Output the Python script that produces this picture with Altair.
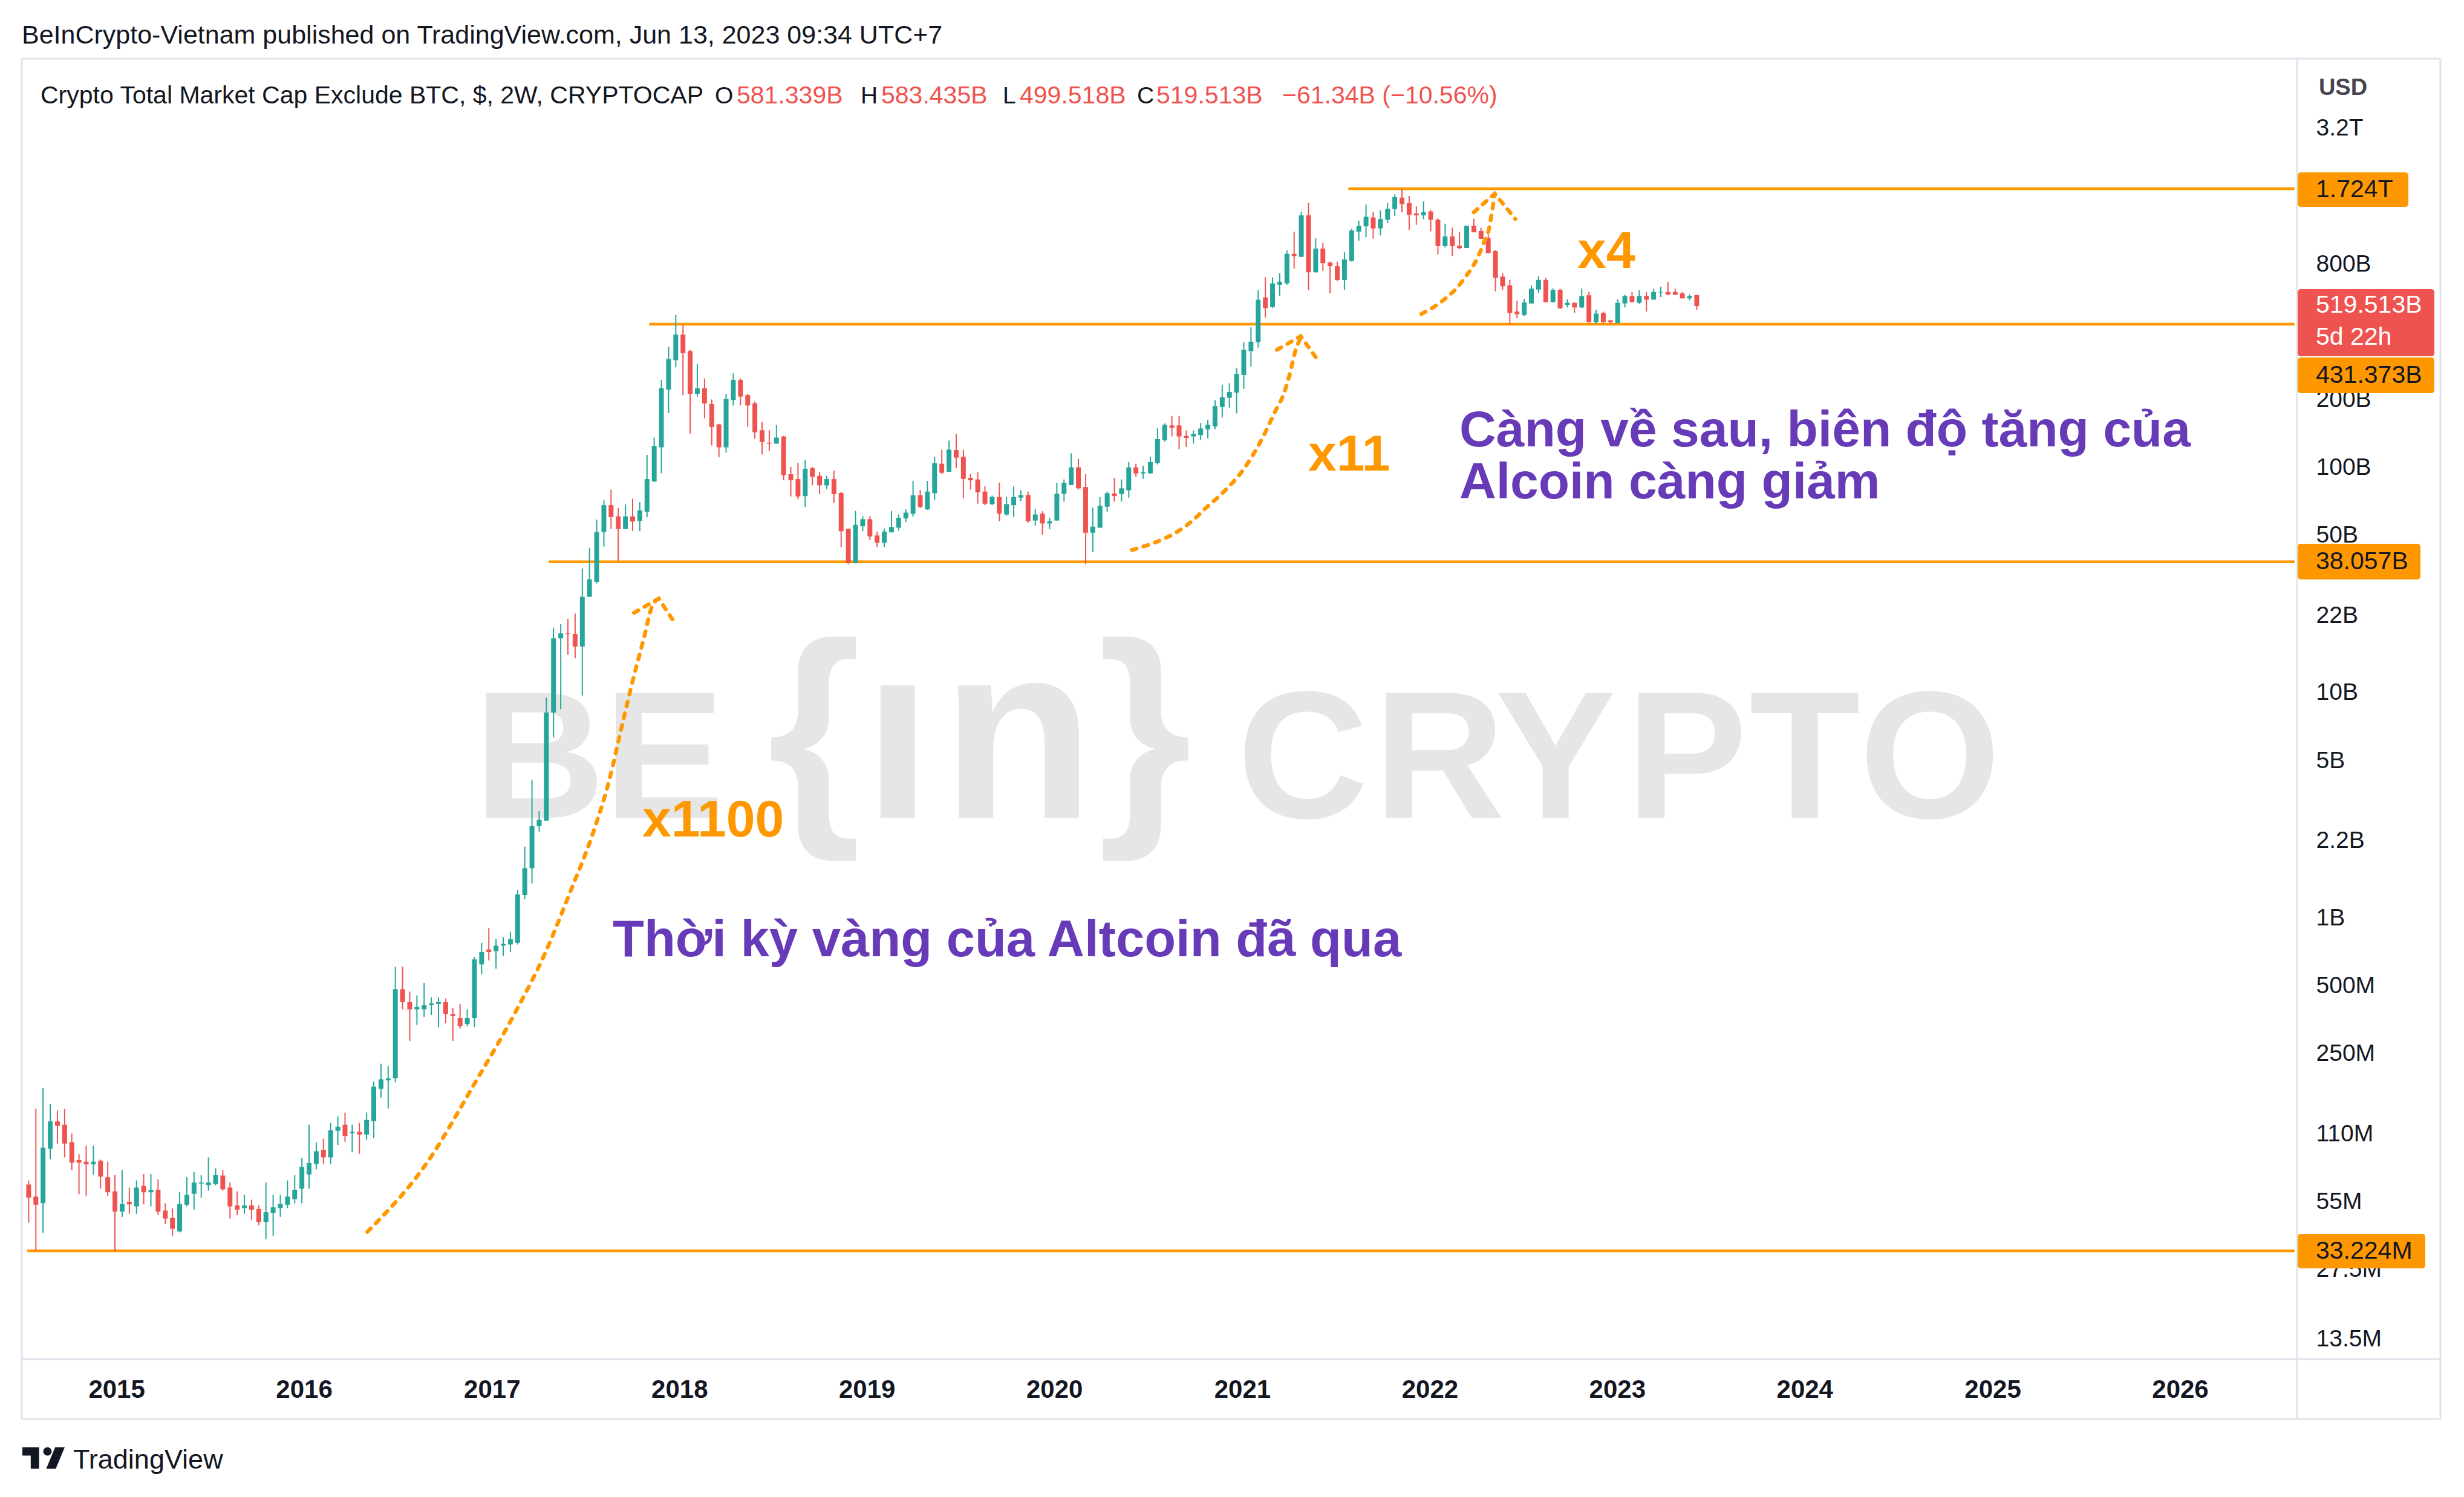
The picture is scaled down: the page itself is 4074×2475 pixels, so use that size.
import altair as alt
import pandas as pd
import numpy as np

FONT = "Liberation Sans, Noto Sans, DejaVu Sans, sans-serif"
UP, DOWN, ORANGE, PURPLE, INK, FRAME, RED = "#26a69a", "#ef5350", "#ff9800", "#673ab7", "#131722", "#e0e3eb", "#ef5350"

# ---------------- data (USD billions), 2-week candles ----------------
LAST_BAR = "2023-06-05"

OPEN = [
    0.0654, 0.0578, 0.0540, 0.0943, 0.1247, 0.1205, 0.1008, 0.0840, 0.0826, 0.0804,
    0.0835, 0.0705, 0.0610, 0.0496, 0.0548, 0.0523, 0.0645, 0.0604, 0.0620, 0.0501,
    0.0465, 0.0405, 0.0532, 0.0595, 0.0661, 0.0650, 0.0658, 0.0717, 0.0634, 0.0528,
    0.0514, 0.0528, 0.0509, 0.0446, 0.0489, 0.0514, 0.0532, 0.0564, 0.0627, 0.0725,
    0.0806, 0.0933, 0.0863, 0.1132, 0.1205, 0.1107, 0.1121, 0.1090, 0.1252, 0.1742,
    0.1897, 0.194, 0.482, 0.422, 0.392, 0.392, 0.409, 0.414, 0.422, 0.374,
    0.359, 0.337, 0.359, 0.621, 0.723, 0.711, 0.752, 0.761, 0.774, 1.26,
    1.66, 2.55, 2.70, 8.15, 17.4, 18.3, 18.2, 16.0, 26.6, 31.0,
    51.6, 67.9, 60.5, 53.2, 60.5, 57.8, 63.5, 86.5, 122.6, 221,
    299, 388, 328, 212, 224, 191, 155, 122.6, 199, 244,
    209, 192, 146, 128.6, 127.3, 137, 93.1, 88.6, 74.5, 99.0,
    91.6, 83.1, 88.6, 76.9, 53.3, 37.5, 54.7, 58.8, 49.8, 46.2,
    51.4, 53.9, 59.3, 62.1, 75.1, 65.0, 76.7, 103.7, 95.5, 119.3,
    111.4, 89.7, 88.3, 78.0, 68.6, 73.8, 61.7, 67.9, 73.3, 75.3,
    58.0, 62.2, 56.3, 58.0, 76.1, 83.3, 99.9, 81.7, 51.2, 53.9,
    66.8, 76.5, 76.1, 79.0, 99.9, 93.9, 93.9, 104.4, 131.9, 153.4,
    153.4, 137.7, 137.0, 138.9, 147.3, 151.7, 185.3, 203.4, 214.5, 256.9,
    328, 359, 568, 515, 646, 655, 886, 859, 1313, 733,
    935, 811, 781, 678, 824, 1112, 1174, 1285, 1149, 1255,
    1400, 1574, 1490, 1340, 1313, 1366, 1255, 959, 1059, 963,
    941, 1180, 1120, 1043, 912, 702, 642, 491, 474, 534,
    615, 679, 541, 613, 526, 537, 512, 580, 441, 484,
    449, 437, 534, 576, 537, 576, 555, 597, 600, 600,
    591, 562, 581.339,
]
HIGH = [
    0.0682, 0.1417, 0.1753, 0.1491, 0.1393, 0.1417, 0.1102, 0.0891, 0.0974, 0.0974,
    0.0844, 0.0826, 0.0720, 0.0759, 0.0634, 0.0682, 0.0728, 0.0728, 0.0690, 0.0540,
    0.0512, 0.0604, 0.0705, 0.0743, 0.0720, 0.0863, 0.0772, 0.0759, 0.0668, 0.0610,
    0.0588, 0.0560, 0.0528, 0.0668, 0.0588, 0.0588, 0.0682, 0.0720, 0.0858, 0.1205,
    0.1008, 0.1045, 0.1229, 0.1313, 0.1364, 0.1205, 0.1229, 0.1364, 0.1876, 0.2249,
    0.2201, 0.606, 0.606, 0.470, 0.452, 0.514, 0.443, 0.443, 0.439, 0.399,
    0.414, 0.392, 0.670, 0.774, 0.900, 0.804, 0.820, 0.867, 1.33, 2.07,
    4.09, 2.97, 9.49, 19.4, 20.1, 21.2, 22.4, 35.5, 43.9, 58.6,
    71.3, 79.6, 65.9, 68.4, 72.5, 69.9, 113.5, 135.4, 244, 342,
    474, 427, 332, 287, 248, 200, 156, 212, 261, 248,
    212, 196, 159, 146, 154, 138, 100.4, 104.5, 107.8, 100.4,
    95.2, 91.6, 96.7, 77.8, 53.5, 64.0, 60.7, 60.7, 51.8, 53.5,
    64.0, 61.7, 65.1, 87.1, 79.3, 87.0, 111.4, 119.8, 131.4, 140.6,
    119.8, 93.5, 95.1, 82.3, 74.9, 85.3, 73.8, 82.3, 79.0, 78.0,
    65.2, 63.8, 59.7, 85.3, 88.3, 115.3, 109.1, 93.1, 66.2, 73.8,
    78.0, 89.7, 88.3, 105.5, 103.7, 101.6, 111.4, 149.4, 156.6, 169.1,
    169.1, 145.7, 145.7, 157.3, 162.2, 198.6, 232.0, 236.1, 276.3, 359,
    418, 610, 697, 697, 728, 918, 1112, 1364, 1490, 1039,
    991, 818, 818, 901, 1143, 1243, 1467, 1360, 1382, 1490,
    1627, 1717, 1600, 1440, 1517, 1389, 1274, 1206, 1157, 1105,
    1180, 1268, 1156, 1081, 921, 727, 679, 548, 560, 643,
    705, 693, 621, 621, 556, 539, 621, 600, 501, 491,
    452, 556, 583, 600, 610, 600, 621, 633, 666, 621,
    600, 585, 583.435,
]
LOW = [
    0.0443, 0.0331, 0.0399, 0.0848, 0.0994, 0.0863, 0.0759, 0.0592, 0.0582, 0.0723,
    0.0627, 0.0582, 0.0331, 0.0470, 0.0485, 0.0485, 0.0534, 0.0523, 0.0479, 0.0437,
    0.0387, 0.0401, 0.0523, 0.0506, 0.0572, 0.0614, 0.0648, 0.0614, 0.0462, 0.0478,
    0.0485, 0.0456, 0.0432, 0.0374, 0.0387, 0.0470, 0.0514, 0.0540, 0.0540, 0.0627,
    0.0763, 0.0804, 0.0804, 0.0980, 0.1012, 0.0909, 0.0895, 0.1034, 0.1051, 0.1590,
    0.1423, 0.186, 0.392, 0.284, 0.334, 0.363, 0.370, 0.327, 0.340, 0.284,
    0.322, 0.330, 0.327, 0.561, 0.646, 0.594, 0.678, 0.704, 0.761, 1.21,
    1.42, 2.41, 2.70, 6.32, 8.44, 14.7, 14.2, 9.7, 26.6, 30.5,
    44.4, 53.2, 38.4, 53.2, 52.1, 52.0, 60.0, 86.1, 94.0, 174,
    278, 209, 141, 206, 165, 125, 110.7, 116, 188, 188,
    151, 134, 114, 118, 127.3, 87.5, 74.2, 72.1, 66.7, 83.1,
    76.0, 80.1, 69.4, 44.3, 37.2, 37.5, 52.0, 47.5, 44.3, 44.3,
    51.4, 52.3, 57.2, 60.3, 65.9, 64.7, 71.5, 93.5, 95.5, 99.1,
    73.0, 79.6, 68.9, 67.9, 67.9, 57.6, 60.9, 60.1, 70.8, 56.8,
    55.0, 50.2, 53.1, 58.0, 70.4, 83.3, 79.6, 37.1, 42.1, 53.9,
    63.5, 70.4, 70.4, 73.3, 90.6, 88.8, 93.9, 102.8, 129.9, 137.0,
    120.3, 123.0, 127.4, 132.2, 134.5, 147.7, 166.1, 183.6, 173.3, 222.9,
    280, 340, 462, 509, 578, 646, 760, 859, 613, 733,
    745, 591, 670, 613, 818, 1014, 1050, 1034, 1070, 1213,
    1303, 1356, 1132, 1192, 1264, 1115, 880, 945, 866, 928,
    941, 1104, 1032, 893, 604, 613, 430, 459, 468, 531,
    595, 539, 539, 504, 512, 484, 509, 439, 435, 435,
    435, 435, 512, 541, 531, 491, 555, 570, 580, 583,
    562, 551, 499.518,
]
CLOSE = [
    0.0572, 0.0532, 0.0953, 0.1247, 0.1192, 0.0994, 0.0818, 0.0818, 0.0804, 0.0826,
    0.0709, 0.0604, 0.0496, 0.0536, 0.0534, 0.0634, 0.0604, 0.0620, 0.0496, 0.0462,
    0.0416, 0.0536, 0.0588, 0.0668, 0.0668, 0.0668, 0.0720, 0.0623, 0.0523, 0.0506,
    0.0528, 0.0506, 0.0446, 0.0493, 0.0518, 0.0536, 0.0578, 0.0620, 0.0784, 0.0814,
    0.0919, 0.0863, 0.1138, 0.1181, 0.1074, 0.1121, 0.1090, 0.1265, 0.1779, 0.1917,
    0.1936, 0.482, 0.422, 0.392, 0.402, 0.409, 0.417, 0.422, 0.374, 0.366,
    0.330, 0.359, 0.653, 0.704, 0.704, 0.752, 0.765, 0.804, 1.27, 1.66,
    2.55, 2.72, 8.15, 17.4, 18.3, 18.2, 16.0, 26.6, 31.8, 51.6,
    67.9, 60.1, 53.2, 60.5, 57.4, 64.3, 88.6, 124.4, 224, 302,
    388, 321, 212, 224, 192, 151, 122.6, 201, 244, 206,
    188, 143, 129.5, 127.3, 135.4, 92.2, 87.5, 74.2, 98.5, 90.7,
    83.1, 88.6, 76.0, 52.0, 37.5, 55.5, 58.8, 49.3, 46.2, 51.8,
    54.3, 59.7, 62.9, 75.1, 66.7, 78.0, 104.1, 94.5, 119.8, 110.3,
    88.8, 87.5, 77.4, 68.9, 73.8, 62.2, 68.6, 73.8, 75.3, 57.6,
    61.7, 56.3, 57.6, 76.3, 85.3, 99.9, 80.6, 51.2, 54.5, 67.5,
    76.7, 74.5, 80.6, 99.9, 93.9, 95.1, 105.5, 133.3, 154.1, 149.6,
    137.0, 134.9, 140.6, 148.6, 154.4, 187.1, 204.6, 215.9, 260.0, 332,
    361, 554, 509, 655, 666, 886, 866, 1313, 733, 935,
    806, 781, 678, 837, 1124, 1178, 1295, 1149, 1264, 1406,
    1582, 1473, 1322, 1313, 1356, 1255, 959, 1059, 959, 939,
    1180, 1104, 1032, 893, 693, 636, 484, 478, 539, 621,
    679, 541, 613, 508, 537, 512, 576, 441, 481, 441,
    441, 537, 576, 541, 576, 555, 600, 600, 585, 583,
    562, 576, 519.513,
]

# horizontal support / resistance levels (USD billions) and where they start (fractional year)
LEVEL_VALUES = [1724.0, 431.373, 38.057, 0.033224]
LEVEL_LABELS = ["1.724T", "431.373B", "38.057B", "33.224M"]
LEVEL_START_YEAR = [2021.566, 2017.839, 2017.302, 2014.524]

# dotted annotation curves (fractional year, USD billions)
C1_YR = [2016.337, 2016.654, 2016.905, 2017.132, 2017.281, 2017.419, 2017.534, 2017.626, 2017.695, 2017.752, 2017.809, 2017.855, 2017.890]
C1_VAL = [0.0403, 0.0816, 0.182, 0.390, 0.688, 1.31, 2.31, 4.08, 7.20, 11.34, 17.2, 24.2, 26.1]
A1_YR = [2017.758, 2017.890, 2017.982]
A1_VAL = [22.6, 26.1, 20.0]
C2_YR = [2020.413, 2020.748, 2020.797, 2020.905, 2021.012, 2021.108, 2021.173, 2021.226, 2021.258, 2021.285, 2021.312]
C2_VAL = [42.9, 59.2, 64.8, 78.3, 99.2, 135, 175, 217, 268, 332, 373]
A2_YR = [2021.185, 2021.312, 2021.408]
A2_VAL = [332, 382, 295]
C3_YR = [2021.955, 2022.029, 2022.093, 2022.148, 2022.190, 2022.225, 2022.260, 2022.286, 2022.315, 2022.334, 2022.347]
C3_VAL = [479, 519, 570, 629, 699, 767, 868, 982, 1132, 1389, 1620]
A3_YR = [2022.235, 2022.347, 2022.457]
A3_VAL = [1354, 1640, 1265]

Y_TICKS = [0.0135, 0.0275, 0.055, 0.11, 0.25, 0.5, 1, 2.2, 5, 10, 22, 50, 100, 200, 800, 3200]
YEARS = list(range(2015, 2027))

HEADER = "BeInCrypto-Vietnam published on TradingView.com, Jun 13, 2023 09:34 UTC+7"
TITLE = "Crypto Total Market Cap Exclude BTC, $, 2W, CRYPTOCAP"
OHLC = [("O", "581.339B"), ("H", "583.435B"), ("L", "499.518B"), ("C", "519.513B")]
CHANGE = "\u221261.34B (\u221210.56%)"
LAST_PRICE = "519.513B"
COUNTDOWN = "5d 22h"
NOTE_1100, NOTE_11, NOTE_4 = "x1100", "x11", "x4"
NOTE_A1 = "C\u00e0ng v\u1ec1 sau, bi\u00ean \u0111\u1ed9 t\u0103ng c\u1ee7a"
NOTE_A2 = "Alcoin c\u00e0ng gi\u1ea3m"
NOTE_B = "Th\u1eddi k\u1ef3 v\u00e0ng c\u1ee7a Altcoin \u0111\u00e3 qua"

# ---------------- helpers ----------------
def fy(f):
    y = int(f)
    s = pd.Timestamp(year=y, month=1, day=1)
    e = pd.Timestamp(year=y + 1, month=1, day=1)
    return (s + (e - s) * (f - y)).strftime("%Y-%m-%dT%H:%M:%S")

n = len(CLOSE)
assert len(OPEN) == n and len(HIGH) == n and len(LOW) == n
dates = pd.date_range(end=LAST_BAR, periods=n, freq="14D")
df = pd.DataFrame({
    "date": dates.strftime("%Y-%m-%dT00:00:00"),
    "open": OPEN, "high": HIGH, "low": LOW, "close": CLOSE,
})
df["dir"] = np.where(df["close"] >= df["open"], "up", "down")

X_END = fy(2026.611)
XSCALE = alt.Scale(domain=[alt.DateTime(year=2014, month=7, date=10), alt.DateTime(year=2026, month=8, date=11)])
YSCALE = alt.Scale(type="log", domain=[0.01098, 6395], nice=False, zero=False)

XAXIS = alt.Axis(values=[alt.DateTime(year=y, month=1, date=1) for y in YEARS], format="%Y",
                 labelFontSize=42, labelFontWeight="bold", labelColor=INK, labelFont=FONT,
                 ticks=False, domain=False, grid=False, labelPadding=50, labelBaseline="middle",
                 title=None, labelOverlap=False, labelFlush=False, labelBound=False)
YAXIS = alt.Axis(orient="right", values=Y_TICKS,
                 labelExpr="datum.value >= 1000 ? format(datum.value/1000, '.2~r') + 'T' : (datum.value >= 1 ? format(datum.value, '.3~r') + 'B' : format(datum.value*1000, '.3~r') + 'M')",
                 labelFontSize=39, labelColor=INK, labelFont=FONT, ticks=False, domain=False, grid=False,
                 labelPadding=31, labelAlign="left", labelBaseline="middle", title=None,
                 labelOverlap=False, labelFlush=False, labelBound=False)

def X(f):
    return alt.X(f"{f}:T", scale=XSCALE, axis=XAXIS)

def Y(f):
    return alt.Y(f"{f}:Q", scale=YSCALE, axis=YAXIS)

ONE = alt.Data(values=[{"k": 1}])

def txt(s, x, y, size, color, weight="normal", align="left", baseline="alphabetic", font=FONT):
    return alt.Chart(alt.Data(values=[{"s": s}])).mark_text(
        align=align, baseline=baseline, fontSize=size, font=font, fontWeight=weight, color=color
    ).encode(x=alt.value(x), y=alt.value(y), text="s:N")

def rect(x1, x2, y1, y2, color, r=0):
    return alt.Chart(ONE).mark_rect(color=color, cornerRadius=r).encode(
        x=alt.value(x1), x2=alt.value(x2), y=alt.value(y1), y2=alt.value(y2))

def hrule(y, x1, x2, color=FRAME, w=3):
    return alt.Chart(ONE).mark_rule(color=color, strokeWidth=w).encode(
        x=alt.value(x1), x2=alt.value(x2), y=alt.value(y))

def vrule(x, y1, y2, color=FRAME, w=3):
    return alt.Chart(ONE).mark_rule(color=color, strokeWidth=w).encode(
        x=alt.value(x), y=alt.value(y1), y2=alt.value(y2))

COLOR = alt.Color("dir:N", scale=alt.Scale(domain=["up", "down"], range=[UP, DOWN]), legend=None)

layers = []

# watermark (BE[in]CRYPTO)
WM = "#e6e6e6"
WM_FONT = "Liberation Sans, Arial, sans-serif"
for ch, cx, size, base in [("B", 853, 300, 1252), ("E", 1059, 300, 1252), ("{", 1307, 398, 1241),
                           ("\u0131", 1445, 414, 1252), ("n", 1644, 414, 1252), ("}", 1854, 398, 1241),
                           ("C", 2115, 300, 1252), ("R", 2341, 300, 1252), ("Y", 2533, 300, 1252),
                           ("P", 2750, 300, 1252), ("T", 2945, 300, 1252), ("O", 3152, 300, 1252)]:
    layers.append(txt(ch, cx, base, size, WM, weight="bold", align="center", font=WM_FONT))

# horizontal levels
lev = pd.DataFrame({"start": [fy(v) for v in LEVEL_START_YEAR], "end": X_END, "value": LEVEL_VALUES})
layers.append(alt.Chart(lev).mark_rule(color=ORANGE, strokeWidth=4.5).encode(
    x=X("start"), x2=alt.X2("end"), y=Y("value")))

# candles
layers.append(alt.Chart(df).mark_rule(strokeWidth=2).encode(x=X("date"), y=Y("low"), y2=alt.Y2("high"), color=COLOR))
layers.append(alt.Chart(df).mark_bar(width=8).encode(x=X("date"), y=Y("open"), y2=alt.Y2("close"), color=COLOR))

# dotted arrows
def curve_df(pairs):
    rows = []
    for cid, (yrs, vals) in enumerate(pairs):
        for i, (a, b) in enumerate(zip(yrs, vals)):
            rows.append({"id": cid, "ord": i, "date": fy(a), "value": b})
    return pd.DataFrame(rows)

dash = dict(color=ORANGE, strokeDash=[8, 12], strokeWidth=6.5, strokeCap="round")
layers.append(alt.Chart(curve_df([(C1_YR, C1_VAL), (C2_YR, C2_VAL), (C3_YR, C3_VAL)])).mark_line(
    interpolate="monotone", **dash).encode(x=X("date"), y=Y("value"), detail="id:N", order="ord:Q"))
layers.append(alt.Chart(curve_df([(A1_YR, A1_VAL), (A2_YR, A2_VAL), (A3_YR, A3_VAL)])).mark_line(
    **dash).encode(x=X("date"), y=Y("value"), detail="id:N", order="ord:Q"))

# annotation texts
layers.append(txt(NOTE_1100, 1023, 1283, 86, ORANGE, weight="bold"))
layers.append(txt(NOTE_11, 2124, 678, 84, ORANGE, weight="bold"))
layers.append(txt(NOTE_4, 2569, 343, 86, ORANGE, weight="bold"))
layers.append(txt(NOTE_A1, 2374, 638, 84, PURPLE, weight="bold"))
layers.append(txt(NOTE_A2, 2374, 724, 84, PURPLE, weight="bold"))
layers.append(txt(NOTE_B, 974, 1481, 85, PURPLE, weight="bold"))

# frame
layers += [
    hrule(-3, -3, 3996), hrule(2246, -3, 3996), hrule(2147, -3, 3996),
    vrule(-3, -3, 2246), vrule(3996, -3, 2246), vrule(3759, -3, 2246),
]

# price tags on the right scale
TX = 3790
layers += [
    rect(3760, 3943, 185, 242, ORANGE, 5), txt(LEVEL_LABELS[0], TX, 214, 41, INK, baseline="middle"),
    rect(3760, 3986, 378, 489, RED, 5), txt(LAST_PRICE, TX, 405, 41, "white", baseline="middle"),
    txt(COUNTDOWN, TX, 458, 41, "white", baseline="middle"),
    rect(3760, 3986, 491, 550, ORANGE, 5), txt(LEVEL_LABELS[1], TX, 521, 41, INK, baseline="middle"),
    rect(3760, 3963, 799, 858, ORANGE, 5), txt(LEVEL_LABELS[2], TX, 829, 41, INK, baseline="middle"),
    rect(3760, 3971, 1940, 1997, ORANGE, 5), txt(LEVEL_LABELS[3], TX, 1969, 41, INK, baseline="middle"),
    txt("USD", 3835, 46, 38, "#434651", weight="bold", align="center", baseline="middle"),
]

# header / legend line / footer
layers.append(txt(HEADER, -3, -28, 43, INK))
layers.append(txt(TITLE, 28, 71, 41, INK))
ox = [(1143, 1179), (1384, 1418), (1619, 1647), (1841, 1873)]
for (lab, val), (xl, xv) in zip(OHLC, ox):
    layers.append(txt(lab, xl, 71, 39, INK))
    layers.append(txt(val, xv, 71, 41, RED))
layers.append(txt(CHANGE, 2081, 71, 41, RED))

LOGO = ("M-0.222,0.5L-0.611,0.5L-0.611,-0.111L-1,-0.111L-1,-0.5L-0.222,-0.5Z "
        "M0.556,0.5L0.111,0.5L0.528,-0.5L0.972,-0.5Z "
        "M-0.027,-0.306A0.194,0.194 0 1 0 0.361,-0.306A0.194,0.194 0 1 0 -0.027,-0.306Z")
layers.append(alt.Chart(ONE).mark_point(shape=LOGO, filled=True, size=5041, color=INK, opacity=1, strokeWidth=0).encode(
    x=alt.value(33.5), y=alt.value(2310.5)))
layers.append(txt("TradingView", 82, 2328, 45, INK))

chart = alt.layer(*layers).properties(
    width=3759, height=2147,
    autosize=alt.AutoSizeParams(type="none"),
    padding={"left": 31, "top": 92, "right": 266, "bottom": 216},
).configure(font=FONT, background="white").configure_view(stroke=None)

chart.save("out.html", embed_options={"renderer": "svg", "actions": False})
